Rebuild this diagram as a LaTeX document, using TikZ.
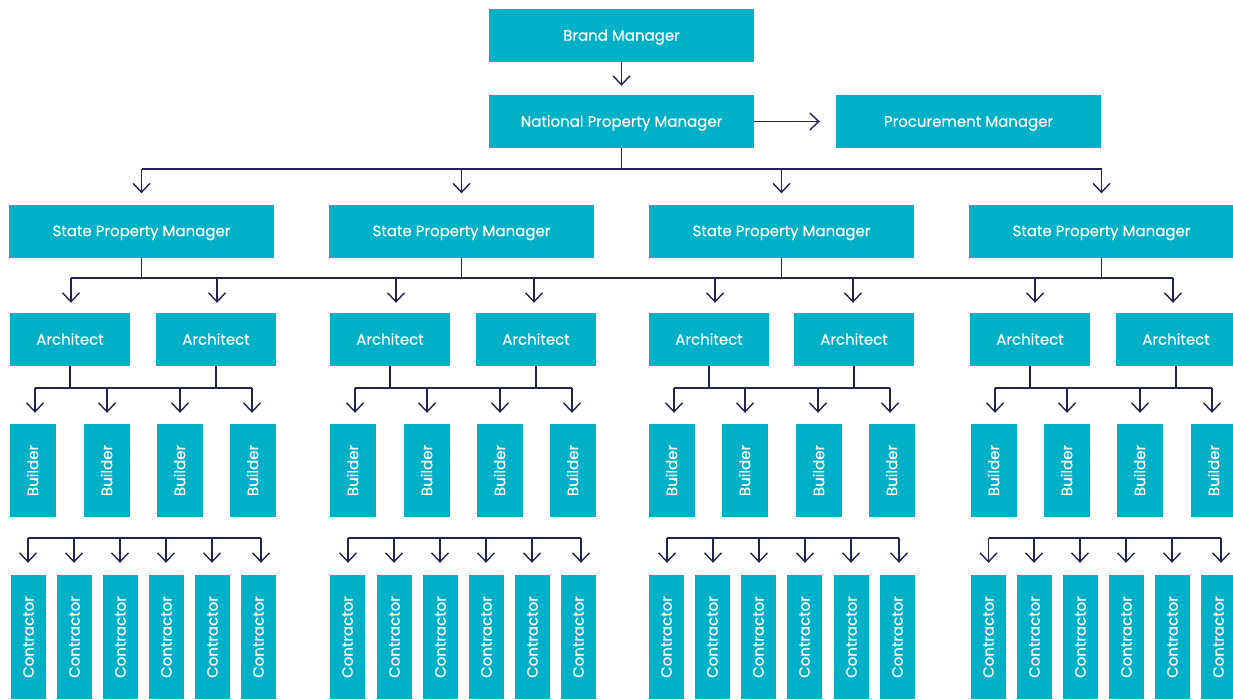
\documentclass[tikz,border=0pt]{standalone}
\usepackage{fontspec}
\setmainfont{Poppins}[FakeBold=0.25]
\usetikzlibrary{arrows.meta}
\definecolor{teal1}{HTML}{00B0C7}
\definecolor{navy}{HTML}{23234F}
\begin{document}
\begin{tikzpicture}[x=1pt,y=-1pt,
 box/.style={fill=teal1, text=white, inner sep=0pt, font=\fontsize{15}{18}\selectfont, text height=10.4pt, text depth=0pt},
 txt/.style={text=white, inner sep=0pt, font=\fontsize{15}{18}\selectfont, text height=10.4pt, text depth=0pt},
 wide/.style={box, minimum width=265pt, minimum height=53pt},
 arch/.style={box, minimum width=120pt, minimum height=53pt},
 bld/.style={box, minimum width=46pt, minimum height=93pt},
 con/.style={box, minimum width=35pt, minimum height=124pt},
 ln/.style={draw=navy, line width=1.4pt},
 arr/.style={ln, -{Straight Barb[length=9pt,width=17pt]}},
]
\clip (0,0) rectangle (1233,699);
\fill[white] (0,0) rectangle (1233,699);

% top
\node[wide] (brand) at (621.5,35.5) {Brand Manager};
\node[wide] (npm) at (621.5,121.5) {National Property Manager};
\node[wide] (proc) at (968.5,121.5) {Procurement Manager};
\draw[arr, shorten >=9pt] (brand.south) -- (npm.north);
\draw[arr, shorten >=16pt] (npm.east) -- (proc.west);

% states
\coordinate (sbar) at (0,169);
\foreach \n/\cx in {s1/141.5, s2/461.5, s3/781.5, s4/1101.5}{
  \node[wide] (\n) at (\cx,231) {State Property Manager};
  \draw[arr, shorten >=11pt] (\n.north |- sbar) -- (\n.north);
}
\draw[ln] (npm.south) -- (npm.south |- sbar);
\draw[ln] (s1.north |- sbar) -- (s4.north |- sbar);

% architects
\coordinate (abar) at (0,278);
\foreach \n/\cx/\ax in {a11/70/71, a12/216/217, a21/390/396, a22/536/534,
                        a31/709/715, a32/854/853, a41/1030/1035, a42/1176/1173}{
  \node[arch] (\n) at (\cx,339.5) {Architect};
  \draw[arr, shorten >=10pt] ([xshift=\ax pt-\cx pt]\n.north |- abar) -- ([xshift=\ax pt-\cx pt]\n.north);
}
\foreach \s in {s1,s2,s3,s4}{
  \draw[ln] (\s.south) -- (\s.south |- abar);
}
\draw[ln] (71,278) -- (1173,278);

% builders
\coordinate (bbar) at (0,388);
\foreach \n/\cx/\ax in {b11/33/35, b12/107/107, b13/180/180, b14/253/252,
                        b21/353/355, b22/427/427, b23/500/500, b24/573/572,
                        b31/672/674, b32/745/745, b33/819/818, b34/892/890,
                        b41/994/995, b42/1067/1067, b43/1140/1140, b44/1214/1212}{
  \node[bld] (\n) at (\cx,470.5) {};
  \node[txt, rotate=90] (\n t) at (\n.center) {Builder};
  \draw[arr, shorten >=11pt] ([xshift=\ax pt-\cx pt]\n.north |- bbar) -- ([xshift=\ax pt-\cx pt]\n.north);
}
\foreach \a in {a11,a12,a21,a22,a31,a32,a41,a42}{
  \draw[ln] (\a.south) -- (\a.south |- bbar);
}
\draw[ln] (35,388) -- (252,388);
\draw[ln] (355,388) -- (572,388);
\draw[ln] (674,388) -- (890,388);
\draw[ln] (995,388) -- (1212,388);

% contractors
\coordinate (cbar) at (0,538);
\foreach \n/\cx/\ax in {c11/28.5/28, c12/74.5/74, c13/120.5/120, c14/166.5/166, c15/212.5/212, c16/258.5/261,
                        c21/347.5/348, c22/394.5/394, c23/440.5/440, c24/486.5/486, c25/532.5/532, c26/578.5/581,
                        c31/666.5/667, c32/712.5/713, c33/758.5/759, c34/804.5/805, c35/851.5/851, c36/897.5/899,
                        c41/988.5/988.5, c42/1034.5/1034, c43/1080.5/1080, c44/1126.5/1126, c45/1172.5/1172, c46/1218.5/1221}{
  \node[con] (\n) at (\cx,637) {};
  \node[txt, rotate=90] (\n t) at (\n.center) {Contractor};
  \draw[arr, shorten >=12pt] ([xshift=\ax pt-\cx pt]\n.north |- cbar) -- ([xshift=\ax pt-\cx pt]\n.north);
}
\draw[ln] (28,538) -- (261,538);
\draw[ln] (348,538) -- (581,538);
\draw[ln] (667,538) -- (899,538);
\draw[ln] (988.5,538) -- (1221,538);
\end{tikzpicture}
\end{document}
